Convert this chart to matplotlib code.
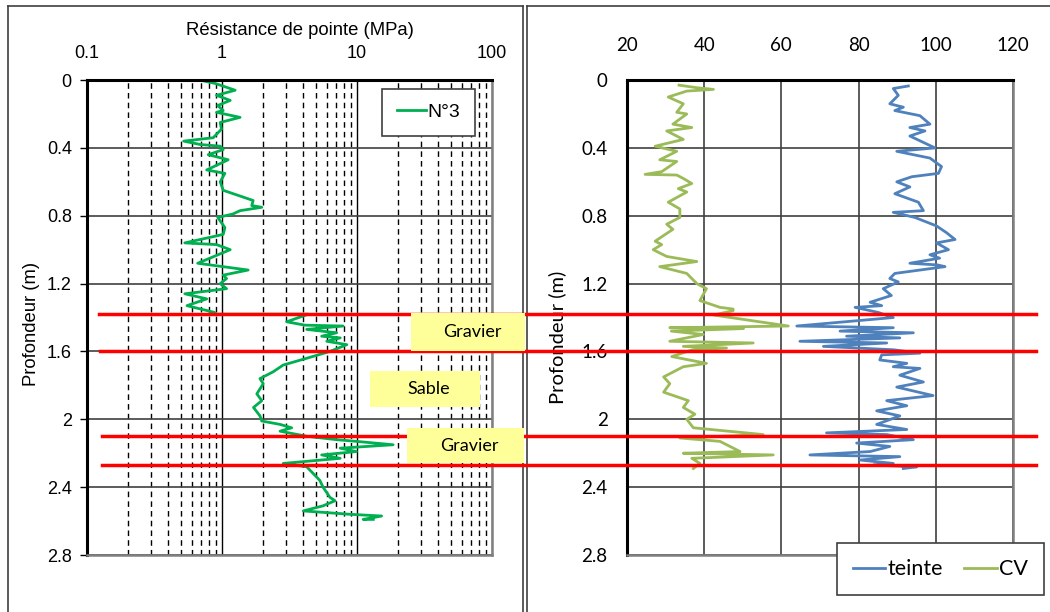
import matplotlib
matplotlib.use("Agg")
import matplotlib.pyplot as plt
import matplotlib.transforms as mtransforms
from matplotlib.lines import Line2D
from matplotlib.patches import Rectangle
from matplotlib.ticker import LogLocator, NullFormatter

#=========================== DONNEES PENETROMETRE N°3 ========================#
prof_n3 = [0.00, 0.02, 0.06, 0.09, 0.12, 0.15, 0.18, 0.19, 0.22, 0.25,
           0.29, 0.34, 0.36, 0.38, 0.39, 0.41, 0.44, 0.47, 0.53, 0.55,
           0.60, 0.65, 0.71, 0.74, 0.75, 0.77, 0.79, 0.81, 0.87, 0.91,
           0.96, 0.97, 1.00, 1.08, 1.12, 1.15, 1.17, 1.20, 1.23, 1.26,
           1.29, 1.33, 1.37, 1.38, 1.38, 1.425, 1.445, 1.45, 1.47, 1.49,
           1.51, 1.52, 1.54, 1.56, 1.60, 1.64, 1.68, 1.72, 1.76, 1.79,
           1.85, 1.89, 1.93, 1.98, 2.01, 2.03, 2.05, 2.07, 2.10, 2.12,
           2.13, 2.15, 2.17, 2.19, 2.21, 2.23, 2.26, 2.28, 2.36, 2.40,
           2.46, 2.48, 2.51, 2.54, 2.56, 2.57, 2.59, 2.59]
qc_n3 = [0.68, 0.89, 1.25, 0.91, 1.15, 0.93, 1.02, 0.91, 1.36, 0.97,
         0.99, 0.86, 0.52, 0.69, 0.97, 1.02, 0.79, 1.11, 0.77, 1.05,
         0.97, 1.02, 1.70, 1.66, 1.97, 1.36, 1.20, 0.93, 1.05, 1.02,
         0.53, 0.91, 1.15, 0.66, 1.56, 1.02, 1.08, 0.97, 1.08, 0.53,
         0.77, 0.55, 0.88, 0.80, 4.36, 3.01, 4.11, 7.88, 4.24, 7.06,
         5.47, 7.50, 5.97, 8.40, 6.30, 4.24, 2.84, 2.39, 1.91, 2.02,
         1.81, 1.97, 1.71, 1.91, 1.97, 2.69, 3.28, 2.69, 4.24, 7.06,
         9.90, 18.5, 7.50, 9.90, 5.47, 7.50, 2.84, 4.24, 5.30, 5.60,
         6.30, 6.87, 5.60, 4.00, 8.90, 15.2, 11.1, 13.2]

#=========================== DONNEES COULEUR (CV / teinte) ===================#
prof_cv = [0.03, 0.045, 0.055, 0.065, 0.10, 0.14, 0.19, 0.20, 0.26, 0.28,
           0.30, 0.35, 0.39, 0.42, 0.47, 0.48, 0.54, 0.556, 0.56, 0.58,
           0.61, 0.64, 0.66, 0.72, 0.76, 0.81, 0.85, 0.88, 0.95, 0.97,
           1.00, 1.04, 1.07, 1.10, 1.14, 1.20, 1.23, 1.30, 1.34, 1.35,
           1.36, 1.385, 1.45, 1.46, 1.465, 1.48, 1.50, 1.54, 1.55, 1.57,
           1.58, 1.59, 1.63, 1.67, 1.69, 1.75, 1.79, 1.84, 1.89, 1.93,
           1.97, 2.00, 2.05, 2.09, 2.11, 2.13, 2.19, 2.20, 2.21, 2.23,
           2.26, 2.29]
cv = [33.5, 38.0, 42.4, 35.5, 30.7, 34.6, 32.9, 35.5, 31.9, 36.8,
      30.3, 34.6, 27.3, 32.9, 28.5, 32.9, 29.0, 24.7, 32.9, 34.6,
      36.8, 33.3, 35.5, 30.7, 33.7, 33.7, 30.3, 31.9, 27.3, 29.0,
      26.8, 30.3, 38.1, 28.5, 35.5, 38.1, 40.6, 38.9, 44.1, 47.5,
      47.5, 42.4, 61.8, 31.1, 50.2, 31.5, 39.8, 31.1, 52.7, 34.6,
      45.8, 37.0, 31.6, 40.6, 34.6, 29.5, 31.1, 29.5, 35.9, 34.6,
      37.6, 35.5, 37.2, 55.3, 33.7, 44.1, 49.3, 34.6, 57.9, 36.8,
      38.9, 37.2]

prof_teinte = [0.035, 0.05, 0.09, 0.14, 0.16, 0.18, 0.21, 0.26, 0.28, 0.30,
               0.33, 0.40, 0.42, 0.46, 0.51, 0.55, 0.57, 0.60, 0.63, 0.67,
               0.72, 0.77, 0.78, 0.81, 0.86, 0.90, 0.94, 0.96, 1.00, 1.03,
               1.05, 1.08, 1.09, 1.10, 1.14, 1.17, 1.19, 1.23, 1.27, 1.31,
               1.33, 1.34, 1.37, 1.38, 1.40, 1.45, 1.46, 1.48, 1.49, 1.51,
               1.52, 1.54, 1.55, 1.57, 1.59, 1.61, 1.62, 1.65, 1.67, 1.69,
               1.70, 1.74, 1.78, 1.81, 1.86, 1.89, 1.92, 1.95, 1.98, 2.03,
               2.06, 2.08, 2.09, 2.12, 2.14, 2.16, 2.19, 2.21, 2.22, 2.24,
               2.26, 2.27, 2.28, 2.29]
teinte = [92.9, 89.0, 90.3, 88.1, 91.6, 89.4, 95.9, 98.5, 93.3, 97.2,
          93.3, 99.8, 89.9, 98.5, 101.5, 100.7, 93.8, 89.9, 93.3, 89.4,
          95.5, 96.8, 89.0, 94.6, 100.2, 102.8, 105.0, 100.2, 103.3, 98.5,
          101.0, 93.3, 100.5, 102.4, 89.4, 88.1, 90.3, 86.4, 88.5, 83.0,
          86.0, 79.1, 85.1, 86.4, 89.0, 64.0, 89.0, 75.2, 94.2, 76.9,
          90.7, 64.8, 87.3, 70.9, 89.0, 95.9, 86.0, 85.5, 92.5, 89.0,
          95.9, 90.7, 96.8, 89.9, 99.3, 87.3, 92.5, 84.7, 90.7, 84.7,
          92.5, 71.7, 87.3, 94.2, 79.5, 88.1, 83.0, 67.4, 90.7, 80.4,
          89.0, 83.8, 95.1, 91.6]

#=========================== COUCHES ========================================#
limites = [1.38, 1.60, 2.10, 2.27]
couches = ['Gravier', 'Sable', 'Gravier']
couche_haut = [1.375, 1.715, 2.05]
couche_bas = [1.595, 1.93, 2.26]

#%%=========================================================================%%#
ARIAL = 'Liberation Sans'
CALIBRI = 'Lato'

fig = plt.figure(figsize=(10.5, 6.12), dpi=100)
ax1 = fig.add_axes([0.0829, 0.0931, 0.3857, 0.7761])
ax2 = fig.add_axes([0.5971, 0.0931, 0.3676, 0.7761])

yticks = [0, 0.4, 0.8, 1.2, 1.6, 2, 2.4, 2.8]
ylabels = ['0', '0.4', '0.8', '1.2', '1.6', '2', '2.4', '2.8']

for ax in (ax1, ax2):
  ax.set_ylim(2.8, 0)
  ax.set_yticks(yticks)
  ax.xaxis.tick_top()
  ax.spines['top'].set_linewidth(2.2)
  ax.spines['left'].set_linewidth(2.2)
  ax.spines['right'].set_color('#808080')
  ax.spines['bottom'].set_color('#808080')
  ax.spines['right'].set_linewidth(1.8)
  ax.spines['bottom'].set_linewidth(1.8)
  ax.set_axisbelow(True)

# ---- panneau gauche
ax1.set_xscale('log')
ax1.set_xlim(0.1, 100)
ax1.set_xticks([0.1, 1, 10, 100])
ax1.set_xticklabels(['0.1', '1', '10', '100'], family=ARIAL, fontsize=13)
ax1.xaxis.set_minor_locator(LogLocator(base=10, subs=range(2, 10)))
ax1.xaxis.set_minor_formatter(NullFormatter())
ax1.tick_params(axis='x', which='both', length=0, pad=13)
ax1.set_yticklabels(ylabels, family=ARIAL, fontsize=13)
ax1.tick_params(axis='y', length=5, width=1, pad=6)
ax1.grid(which='major', axis='x', color='black', lw=1)
ax1.grid(which='minor', axis='x', color='black', lw=1, ls=(0, (4, 3)))
ax1.grid(which='major', axis='y', color='#404040', lw=1.2)
ax1.plot(qc_n3, prof_n3, color='#00B050', lw=2, label='N°3')
ax1.set_xlabel('Résistance de pointe (MPa)', family=ARIAL, fontsize=13.3)
ax1.xaxis.set_label_position('top')
ax1.xaxis.set_label_coords(0.526, 1.095)
ax1.set_ylabel('Profondeur (m)', family=ARIAL, fontsize=13.3)
ax1.yaxis.set_label_coords(-0.116, 0.486)
leg1 = ax1.legend(loc='upper right', bbox_to_anchor=(0.958, 0.981), fancybox=False,
                  edgecolor='#404040', framealpha=1, prop={'family': ARIAL, 'size': 14},
                  handlelength=1.5, handletextpad=0.1, borderpad=0.75, borderaxespad=0)
leg1.get_frame().set_linewidth(1.2)

# ---- panneau droit
ax2.set_xlim(20, 120)
ax2.set_xticks([20, 40, 60, 80, 100, 120])
ax2.set_xticklabels(['20', '40', '60', '80', '100', '120'], family=CALIBRI, fontsize=13.5)
ax2.tick_params(axis='x', length=0, pad=19)
ax2.set_yticklabels(ylabels, family=CALIBRI, fontsize=13.5)
ax2.tick_params(axis='y', length=0, pad=14)
ax2.grid(axis='both', color='#404040', lw=1.2)
ax2.plot(teinte, prof_teinte, color='#4F81BD', lw=2, label='teinte')
ax2.plot(cv, prof_cv, color='#9BBB59', lw=2, label='CV')
ax2.set_ylabel('Profondeur (m)', family=CALIBRI, fontsize=14.5)
ax2.yaxis.set_label_coords(-0.158, 0.459)
leg2 = ax2.legend(loc='upper right', bbox_to_anchor=(1.080, 0.025), ncol=2, fancybox=False,
                  edgecolor='#404040', framealpha=1, prop={'family': CALIBRI, 'size': 15.5},
                  handlelength=1.5, handletextpad=0.1, columnspacing=1.0,
                  borderpad=0.75, borderaxespad=0)
leg2.get_frame().set_linewidth(1.2)

# ---- cadres des deux panneaux
W, H = 1050.0, 612.0
cadre = dict(color='#404040', lw=1.2)
fig.add_artist(Line2D([8/W, 8/W], [0, 1-6/H], **cadre))
fig.add_artist(Line2D([8/W, 523/W], [1-6/H, 1-6/H], **cadre))
fig.add_artist(Line2D([523/W, 523/W], [0, 1-6/H], **cadre))
fig.add_artist(Line2D([527/W, 527/W], [0, 1-6/H], **cadre))
fig.add_artist(Line2D([527/W, 1], [1-6/H, 1-6/H], **cadre))

# ---- limites de couches (rouge) sur les deux panneaux
blend = mtransforms.blended_transform_factory(fig.transFigure, ax1.transData)
x_debut = [99/W, 100/W, 102/W, 102/W]
for d, x0 in zip(limites, x_debut):
  fig.add_artist(Line2D([x0, 1036/W], [d, d], transform=blend, color='#FF0000', lw=2.5, zorder=3))

# ---- étiquettes jaunes
box_x = [(411/W, 525/W), (370/W, 480/W), (407/W, 524/W)]
for nom, (x0, x1), h, b in zip(couches, box_x, couche_haut, couche_bas):
  fig.add_artist(Rectangle((x0, h), x1-x0, b-h, transform=blend, facecolor='#FFFF99',
                           edgecolor='none', zorder=4))
  fig.text((x0+x1)/2 + 0.004, (h+b)/2, nom, transform=blend, ha='center', va='center',
           family=CALIBRI, fontsize=13, zorder=5)

fig.savefig('out.png', dpi=100)
